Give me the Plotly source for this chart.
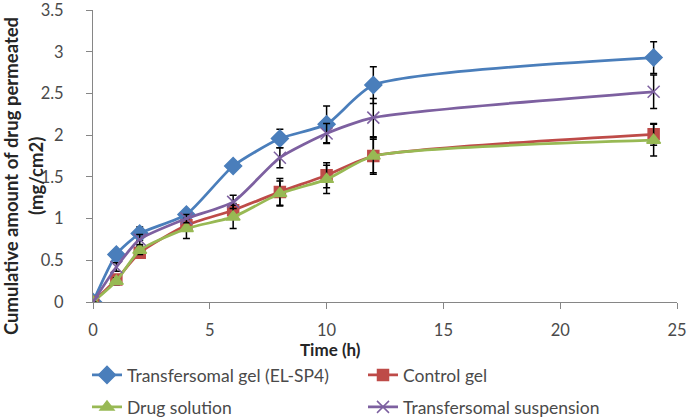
import plotly.graph_objects as go

time_h = [0, 1, 2, 4, 6, 8, 10, 12, 24]

gel_el_sp4 = [0, 0.57, 0.82, 1.05, 1.63, 1.96, 2.13, 2.60, 2.93]
gel_el_sp4_err = [0, 0.05, 0.08, 0.05, 0.04, 0.11, 0.22, 0.22, 0.19]

control_gel = [0, 0.27, 0.59, 0.92, 1.10, 1.32, 1.52, 1.75, 2.01]
control_gel_err = [0, 0.04, 0.05, 0.06, 0.08, 0.16, 0.15, 0.22, 0.13]

drug_solution = [0, 0.25, 0.62, 0.88, 1.02, 1.30, 1.47, 1.75, 1.94]
drug_solution_err = [0, 0.04, 0.05, 0.12, 0.14, 0.15, 0.17, 0.20, 0.19]

tf_suspension = [0, 0.42, 0.75, 1.00, 1.20, 1.73, 2.02, 2.21, 2.52]
tf_suspension_err = [0, 0.05, 0.06, 0.05, 0.08, 0.12, 0.12, 0.23, 0.20]

x_ticks = [0, 5, 10, 15, 20, 25]
y_ticks = [0, 0.5, 1, 1.5, 2, 2.5, 3, 3.5]
y_ticktext = ["0", "0.5", "1", "1.5", "2", "2.5", "3", "3.5"]

series = [
    ("Transfersomal gel (EL-SP4)", gel_el_sp4, gel_el_sp4_err, "#4A7EBB", "diamond", 13, "legend"),
    ("Control gel", control_gel, control_gel_err, "#BE4B48", "square", 11, "legend"),
    ("Drug solution", drug_solution, drug_solution_err, "#98B954", "triangle-up", 12, "legend2"),
    ("Transfersomal suspension", tf_suspension, tf_suspension_err, "#7D60A0", "x-thin-open", 12, "legend2"),
]

fig = go.Figure()
for name, ys, errs, color, sym, size, leg in series:
    fig.add_trace(go.Scatter(
        x=time_h, y=ys, name=name, mode="lines+markers", legend=leg,
        line=dict(color=color, width=2.75, shape="spline", smoothing=0.6),
        marker=dict(symbol=sym, size=size, color=color,
                    line=dict(color=color, width=1.5)),
        error_y=dict(type="data", array=errs, visible=True,
                     color="black", thickness=1.5, width=3.5),
    ))

L, R, T, B = 93, 10, 10, 118
W, H = 687, 420
PW, PH = W - L - R, H - T - B


def px_x(px):
    return (px - L) / PW


def px_y(py):
    return (H - B - py) / PH


font_family = "Lato, 'Open Sans', sans-serif"
txt_color = "#4a4a4a"
title_color = "#262626"
leg_common = dict(orientation="h", xanchor="left", yanchor="middle",
                  entrywidth=231, entrywidthmode="pixels",
                  font=dict(size=17.5, color=txt_color), itemwidth=30,
                  bgcolor="rgba(0,0,0,0)")

fig.update_layout(
    width=W, height=H,
    margin=dict(l=L, r=R, t=T, b=B, autoexpand=False),
    paper_bgcolor="white", plot_bgcolor="white",
    font=dict(family=font_family, size=16.5, color=txt_color),
    showlegend=True,
    legend=dict(x=px_x(87), y=px_y(375), **leg_common),
    legend2=dict(x=px_x(87), y=px_y(407), **leg_common),
    xaxis=dict(range=[0, 25.0001], tickvals=x_ticks,
               showline=True, linecolor="#868686", linewidth=1,
               ticks="outside", tickcolor="#868686", ticklen=6,
               showgrid=False, zeroline=False, ticklabeloverflow="allow",
               automargin=False, ticklabelstandoff=7,
               tickfont=dict(size=16.5, color=txt_color)),
    yaxis=dict(range=[0, 3.5001], tickvals=y_ticks, ticktext=y_ticktext,
               showline=True, linecolor="#868686", linewidth=1,
               ticks="outside", tickcolor="#868686", ticklen=6,
               showgrid=False, zeroline=False, ticklabeloverflow="allow",
               automargin=False, ticklabelstandoff=19,
               tickfont=dict(size=16.5, color=txt_color)),
    annotations=[
        dict(text="<b>Time (h)</b>", xref="paper", yref="paper",
             x=px_x(330), y=px_y(349), xanchor="center", yanchor="middle",
             showarrow=False, font=dict(size=17, color=title_color)),
        dict(text="<b>Cumulative amount of drug permeated</b>", xref="paper", yref="paper",
             x=px_x(11), y=px_y(176), xanchor="center", yanchor="middle",
             textangle=-90, showarrow=False, font=dict(size=18.5, color=title_color)),
        dict(text="<b>(mg/cm2)</b>", xref="paper", yref="paper",
             x=px_x(36), y=px_y(176), xanchor="center", yanchor="middle",
             textangle=-90, showarrow=False, font=dict(size=18.5, color=title_color)),
    ],
)

fig.write_html("out.html", config={"displayModeBar": False},
               post_script="document.body.style.margin='0';")
